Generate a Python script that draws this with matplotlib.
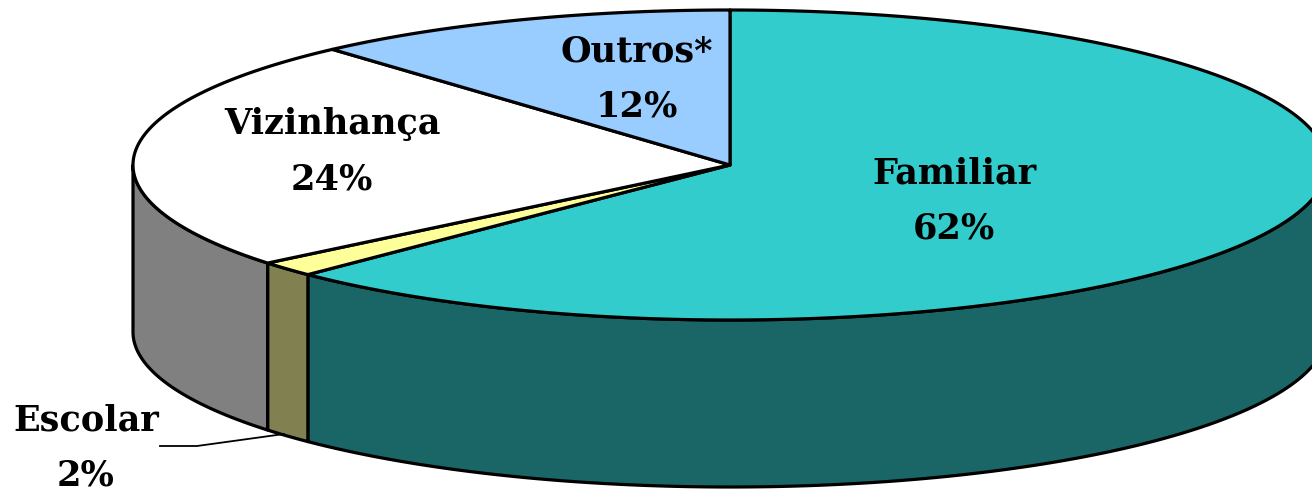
import numpy as np
import matplotlib
matplotlib.use("Agg")
import matplotlib.pyplot as plt
from matplotlib.patches import Polygon

categories = ["Familiar", "Escolar", "Vizinhança", "Outros*"]
values = [62.5, 1.6, 24.3, 11.6]
pct_labels = ["62%", "2%", "24%", "12%"]
top_colors = ["#33CCCC", "#FFFF99", "#FFFFFF", "#99CCFF"]
side_colors = ["#1A6666", "#808050", "#808080", "#4D6680"]
label_pos = [(954, 201), (86, 448), (332, 152), (637, 79)]

CX, CY, A, B, DEPTH = 730, 165, 597, 155, 167
LW = 2.3

fig = plt.figure(figsize=(13.12, 4.92), dpi=100)
ax = fig.add_axes([0, 0, 1, 1])
ax.set_xlim(0, 1312)
ax.set_ylim(492, 0)
ax.axis("off")


def rim(t0, t1, dy=0.0, n=200):
    t = np.radians(np.linspace(t0, t1, n))
    return np.column_stack([CX + A * np.sin(t), CY - B * np.cos(t) + dy])


edges = 360 * np.concatenate([[0], np.cumsum(values)]) / np.sum(values)

# Outer wall (only the front half of the rim faces the viewer)
for i, color in enumerate(side_colors):
    t0, t1 = max(edges[i], 90), min(edges[i + 1], 270)
    if t1 <= t0:
        continue
    upper = rim(t0, t1)
    lower = rim(t0, t1, DEPTH)[::-1]
    ax.add_patch(Polygon(np.vstack([upper, lower]), closed=True, facecolor=color,
                         edgecolor="black", linewidth=LW, joinstyle="round"))

# Top face
for i, color in enumerate(top_colors):
    pts = np.vstack([[CX, CY], rim(edges[i], edges[i + 1])])
    ax.add_patch(Polygon(pts, closed=True, facecolor=color, edgecolor="black",
                         linewidth=LW, joinstyle="round"))

# Leader for the small slice
ax.plot([160, 197, 284], [446, 446, 434], color="black", lw=1.3, solid_joinstyle="miter")

for name, pct, (x, y) in zip(categories, pct_labels, label_pos):
    ax.text(x, y, f"{name}\n{pct}", ha="center", va="center", fontsize=25.3,
            fontweight="bold", family="DejaVu Serif",
            linespacing=1.78, color="black")

fig.savefig("out.png", dpi=100)
